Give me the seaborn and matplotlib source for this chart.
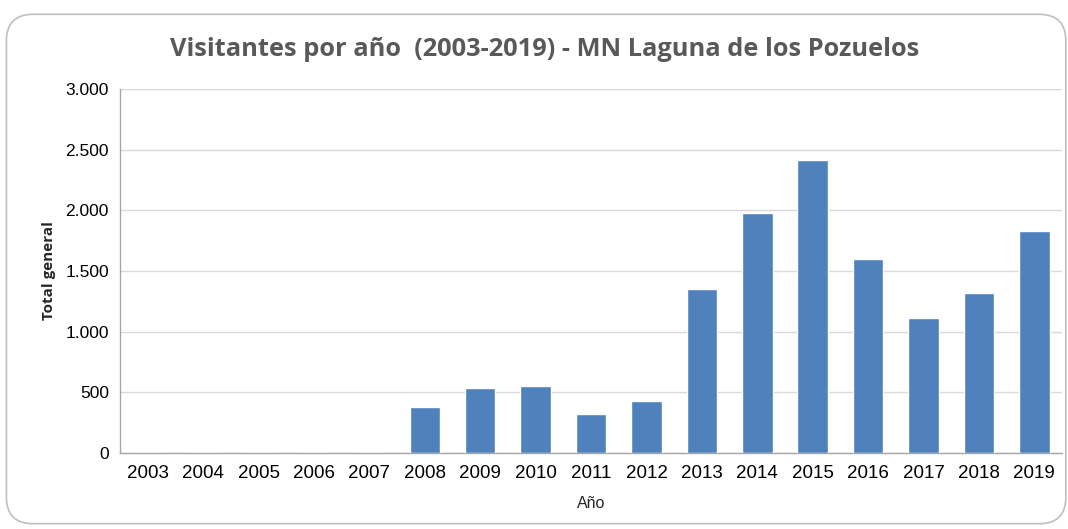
import numpy as np
import matplotlib.pyplot as plt
import pandas as pd
import seaborn as sns
from matplotlib.patches import FancyBboxPatch
from matplotlib.ticker import FuncFormatter

# Visitantes por año
anios = ['2003', '2004', '2005', '2006', '2007', '2008', '2009', '2010', '2011',
         '2012', '2013', '2014', '2015', '2016', '2017', '2018', '2019']
visitantes = [0, 0, 0, 0, 0, 380, 538, 553, 318, 428, 1352, 1980, 2412, 1600, 1113, 1322, 1826]

df = pd.DataFrame({'Año': anios, 'Total general': visitantes})

sns.set_style('white')
plt.rcParams['font.family'] = ['Liberation Sans', 'DejaVu Sans']

fig = plt.figure(figsize=(10.68, 5.29), dpi=100)
ax = fig.add_axes([0.1124, 0.1437, 0.882, 0.688])

# marco redondeado estilo Excel
frame = FancyBboxPatch((0.006, 0.01), 0.992, 0.963, boxstyle='round,pad=0,rounding_size=0.025',
                       transform=fig.transFigure, facecolor='none', edgecolor='#BFBFBF',
                       linewidth=1.2, mutation_aspect=1068 / 529, zorder=-1)
fig.patches.append(frame)

sns.barplot(data=df, x='Año', y='Total general', color='#4F81BD', width=0.55,
            saturation=1, ax=ax, zorder=3)

ax.set_ylim(0, 3000)
ax.set_yticks(range(0, 3001, 500))
ax.yaxis.set_major_formatter(FuncFormatter(lambda v, p: f'{int(v):,}'.replace(',', '.')))
ax.set_xlim(-0.5, len(anios) - 0.5)
ax.grid(axis='y', color='#D9D9D9', linewidth=1, zorder=0)
ax.set_axisbelow(True)

for s in ['top', 'right']:
    ax.spines[s].set_visible(False)
for s in ['left', 'bottom']:
    ax.spines[s].set_color('#A6A6A6')
    ax.spines[s].set_linewidth(1)

ax.tick_params(axis='x', length=0, labelsize=13.5, pad=9, colors='black')
ax.tick_params(axis='y', length=4, width=1, color='#A6A6A6', labelsize=12.5, pad=4,
               labelcolor='black', direction='out')

ax.set_xlabel('Año', fontsize=11.5, labelpad=10)
ax.set_ylabel('Total general', fontsize=11, fontweight='bold', labelpad=7,
              family=['Open Sans', 'DejaVu Sans'])

fig.text(0.51, 0.906, 'Visitantes por año  (2003-2019) - MN Laguna de los Pozuelos',
         ha='center', va='center', fontsize=18.3, fontweight='bold', color='#595959',
         family=['Open Sans', 'DejaVu Sans'])

fig.savefig('out.png', dpi=100)
